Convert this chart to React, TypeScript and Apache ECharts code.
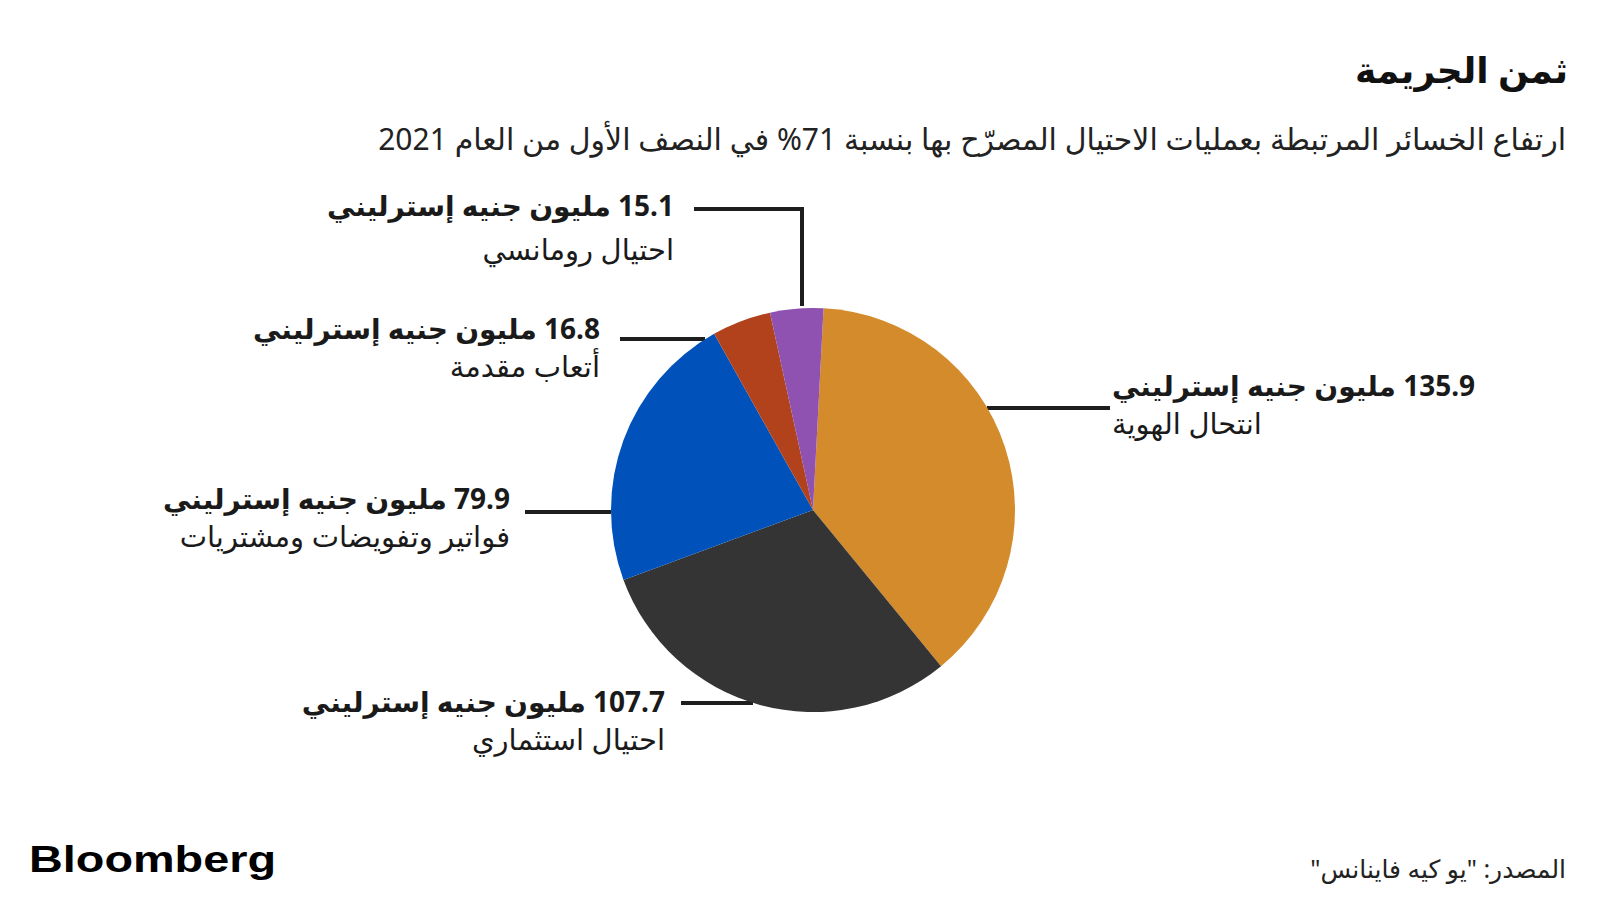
import React, { useEffect, useRef } from 'react';
import * as echarts from 'echarts';

const categories = ['انتحال الهوية', 'احتيال استثماري', 'فواتير وتفويضات ومشتريات', 'أتعاب مقدمة', 'احتيال رومانسي'];
const lossesMillionGBP = [135.9, 107.7, 79.9, 16.8, 15.1];
const unitLabel = 'مليون جنيه إسترليني';
const sliceColors = ['#D38B2B', '#343434', '#0052BA', '#B2421C', '#8F52B0'];
const titleText = 'ثمن الجريمة';
const subtitleText = 'ارتفاع الخسائر المرتبطة بعمليات الاحتيال المصرّح بها بنسبة 71% في النصف الأول من العام 2021';
const sourceText = '\u202Bالمصدر: "يو كيه فاينانس"\u202C';
const brandText = 'Bloomberg';

// label placement (layout only)
const labelLayouts = [
  { x: 1112, c: 385, lh: 37, align: 'left', line: [[987, 408], [1110, 408]] },
  { x: 665, c: 701, lh: 37, align: 'right', line: [[753, 703], [681, 703]] },
  { x: 510, c: 498, lh: 37, align: 'right', line: [[611, 512], [525, 512]] },
  { x: 600, c: 328, lh: 37, align: 'right', line: [[705, 339], [620, 339]] },
  { x: 674, c: 205, lh: 43, align: 'right', line: [[802, 306], [802, 209], [694, 209]] },
];

const FONT = "'Noto Sans', 'DejaVu Sans', sans-serif";

export default function App() {
  const ref = useRef<HTMLDivElement>(null);
  useEffect(() => {
    const chart = echarts.init(ref.current!, null, { renderer: 'svg' });
    const data = categories.map((name, i) => {
      const lay = labelLayouts[i];
      return {
        name,
        value: lossesMillionGBP[i],
        itemStyle: { color: sliceColors[i] },
        label: {
          rich: {
            v: { fontSize: 28, fontWeight: 'bold', color: '#1a1a1a', fontFamily: FONT, lineHeight: lay.lh, align: lay.align },
            n: { fontSize: 29, color: '#1a1a1a', fontFamily: FONT, lineHeight: lay.lh, align: lay.align },
          },
        },
      };
    });
    chart.setOption({
      animation: false,
      backgroundColor: '#ffffff',
      series: [
        {
          type: 'pie',
          center: [813, 510],
          radius: 202,
          startAngle: 87,
          clockwise: true,
          avoidLabelOverlap: false,
          silent: true,
          data,
          label: {
            show: true,
            position: 'outside',
            formatter: (p: any) => `{v|\u202B${p.value} ${unitLabel}\u202C}\n{n|${p.name}}`,
          },
          labelLine: { show: true, smooth: false, lineStyle: { color: '#1e1e1e', width: 4 } },
          labelLayout: (params: any) => {
            const lay = labelLayouts[params.dataIndex];
            return {
              x: lay.x,
              y: lay.c - lay.lh / 2,
              align: lay.align,
              verticalAlign: 'top',
              labelLinePoints: lay.line,
            };
          },
          emphasis: { disabled: true },
        },
      ],
      graphic: [
        {
          type: 'text',
          x: 1568,
          y: 69,
          style: { text: titleText, align: 'right', verticalAlign: 'middle', fontSize: 36, fontWeight: 'bold', fontFamily: FONT, fill: '#111' },
        },
        {
          type: 'text',
          x: 1566,
          y: 138,
          style: { text: subtitleText, align: 'right', verticalAlign: 'middle', fontSize: 30, fontFamily: FONT, fill: '#222' },
        },
        {
          type: 'text',
          x: 29,
          y: 859,
          scaleX: 1.3,
          style: { text: brandText, align: 'left', verticalAlign: 'middle', fontSize: 36, fontWeight: 'bold', fontFamily: "'Liberation Sans', Arial, sans-serif", fill: '#000' },
        },
        {
          type: 'text',
          x: 1566,
          y: 868,
          style: { text: sourceText, align: 'right', verticalAlign: 'middle', fontSize: 25, fontFamily: FONT, fill: '#222' },
        },
      ],
    });
    return () => chart.dispose();
  }, []);
  return <div ref={ref} style={{ position: 'fixed', left: 0, top: 0, width: 1600, height: 900 }} />;
}
